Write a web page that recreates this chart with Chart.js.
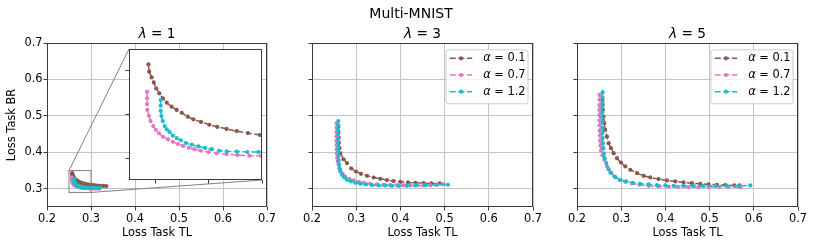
<!DOCTYPE html>
<html><head><meta charset="utf-8">
<script src="https://cdn.jsdelivr.net/npm/chart.js@4/dist/chart.umd.min.js"></script>
<style>
html,body{margin:0;padding:0;background:#fff;}
#wrap{position:relative;width:814px;height:247px;background:#fff;}
canvas{position:absolute;left:0;top:0;}
</style></head><body>
<div id="wrap">
<canvas id="c1" width="814" height="247"></canvas>
<canvas id="c2" width="814" height="247"></canvas>
<canvas id="c3" width="814" height="247"></canvas>
<canvas id="cin" width="814" height="247"></canvas>
</div>
<script>
// ---------------- data ----------------
const suptitle = 'Multi-MNIST';
const lambdas = ['1', '3', '5'];
const seriesLabels = ['α = 0.1', 'α = 0.7', 'α = 1.2'];
const xAxisLabel = 'Loss Task TL';
const yAxisLabel = 'Loss Task BR';
const xTicks = [0.2, 0.3, 0.4, 0.5, 0.6, 0.7];
const yTicks = [0.3, 0.4, 0.5, 0.6, 0.7];
const insetXTicks = [0.26, 0.28, 0.30];
const insetYTicks = [0.30, 0.32, 0.34];

// lambda = 1
const lam1_a01_x = [0.2573,0.2576,0.2585,0.2593,0.2602,0.2614,0.2627,0.2642,0.2660,0.2679,0.2698,0.2721,0.2742,0.2771,0.2802,0.2832,0.2867,0.2905,0.2947,0.2992,0.3040,0.3090,0.3150,0.3210,0.3280,0.3350];
const lam1_a01_y = [0.3430,0.3396,0.3370,0.3347,0.3320,0.3297,0.3274,0.3254,0.3236,0.3221,0.3208,0.3190,0.3178,0.3166,0.3153,0.3143,0.3134,0.3124,0.3115,0.3106,0.3099,0.3093,0.3087,0.3082,0.3078,0.3075];
const lam1_a07_x = [0.2568,0.2568,0.2568,0.2569,0.2575,0.2581,0.2591,0.2601,0.2613,0.2628,0.2647,0.2665,0.2684,0.2703,0.2725,0.2746,0.2770,0.2799,0.2830,0.2867,0.2908,0.2953,0.2996,0.3040,0.3090,0.3140,0.3190];
const lam1_a07_y = [0.3304,0.3274,0.3248,0.3221,0.3194,0.3170,0.3147,0.3129,0.3114,0.3098,0.3086,0.3075,0.3065,0.3056,0.3048,0.3041,0.3034,0.3028,0.3022,0.3018,0.3014,0.3011,0.3011,0.3009,0.3008,0.3007,0.3006];
const lam1_a12_x = [0.2619,0.2619,0.2619,0.2622,0.2627,0.2634,0.2642,0.2652,0.2665,0.2679,0.2695,0.2714,0.2736,0.2761,0.2786,0.2811,0.2840,0.2867,0.2905,0.2945,0.2986,0.3030,0.3070,0.3110,0.3160,0.3200];
const lam1_a12_y = [0.3266,0.3240,0.3217,0.3193,0.3170,0.3147,0.3132,0.3120,0.3103,0.3092,0.3082,0.3069,0.3062,0.3054,0.3047,0.3041,0.3034,0.3031,0.3030,0.3028,0.3028,0.3027,0.3026,0.3025,0.3025,0.3025];

// lambda = 3
const lam3_a01_x = [0.2595,0.2598,0.2603,0.2610,0.2622,0.2640,0.2715,0.2792,0.2889,0.2995,0.3109,0.3244,0.3395,0.3545,0.3697,0.3846,0.3998,0.4172,0.4337,0.4525,0.4699,0.4888];
const lam3_a01_y = [0.470,0.455,0.440,0.426,0.412,0.398,0.381,0.3704,0.3557,0.3474,0.3411,0.3356,0.3310,0.3274,0.3238,0.3211,0.3192,0.3174,0.3165,0.3155,0.3146,0.3146];
const lam3_a07_x = [0.2557,0.2555,0.2553,0.2553,0.2553,0.2555,0.2558,0.2563,0.2570,0.2583,0.2602,0.2640,0.2694,0.2746,0.2844,0.2942,0.3055,0.3168,0.3319,0.3470,0.3620,0.3771,0.3922,0.4073,0.4223,0.4374,0.4525,0.4676,0.4827,0.4977];
const lam3_a07_y = [0.480,0.468,0.456,0.444,0.432,0.420,0.408,0.396,0.385,0.375,0.3658,0.3520,0.3411,0.3338,0.3274,0.3228,0.3192,0.3164,0.3137,0.3119,0.3110,0.3100,0.3100,0.3100,0.3091,0.3091,0.3091,0.3100,0.3110,0.3125];
const lam3_a12_x = [0.2595,0.2593,0.2591,0.2590,0.2590,0.2591,0.2593,0.2596,0.2600,0.2605,0.2612,0.2622,0.2640,0.2678,0.2731,0.2792,0.2882,0.2980,0.3093,0.3221,0.3357,0.3508,0.3658,0.3809,0.3960,0.4148,0.4337,0.4563,0.4805,0.5076];
const lam3_a12_y = [0.486,0.474,0.462,0.450,0.438,0.426,0.414,0.402,0.390,0.378,0.366,0.356,0.3475,0.3384,0.3310,0.3247,0.3200,0.3164,0.3137,0.3119,0.3100,0.3091,0.3091,0.3082,0.3082,0.3082,0.3091,0.3100,0.3110,0.3110];

// lambda = 5
const lam5_a01_x = [0.2575,0.2580,0.2586,0.2601,0.2616,0.2639,0.2678,0.2715,0.2768,0.2828,0.2904,0.2995,0.3093,0.3206,0.3357,0.3508,0.3658,0.3847,0.4035,0.4224,0.4412,0.4601,0.4789,0.4977,0.5166,0.5355,0.5558,0.5679];
const lam5_a01_y = [0.545,0.530,0.5164,0.498,0.4799,0.4616,0.4434,0.4251,0.4114,0.3977,0.3840,0.3721,0.3612,0.3521,0.3430,0.3356,0.3311,0.3265,0.3228,0.3201,0.3174,0.3155,0.3137,0.3119,0.3110,0.3101,0.3091,0.3091];
const lam5_a07_x = [0.2511,0.2508,0.2507,0.2507,0.2508,0.2510,0.2512,0.2515,0.2519,0.2524,0.2530,0.2545,0.2575,0.2618,0.2678,0.2753,0.2844,0.2964,0.3093,0.3244,0.3417,0.3620,0.3847,0.4073,0.4299,0.4525,0.4751,0.4977,0.5204,0.5430,0.5700];
const lam5_a07_y = [0.5575,0.544,0.530,0.516,0.502,0.488,0.474,0.460,0.446,0.432,0.418,0.405,0.392,0.3795,0.3612,0.3447,0.3338,0.3247,0.3192,0.3146,0.3110,0.3082,0.3064,0.3055,0.3046,0.3046,0.3046,0.3046,0.3046,0.3046,0.3040];
const lam5_a12_x = [0.2580,0.2577,0.2575,0.2573,0.2572,0.2572,0.2573,0.2575,0.2578,0.2582,0.2588,0.2597,0.2610,0.2628,0.2663,0.2715,0.2776,0.2866,0.2980,0.3115,0.3266,0.3432,0.3620,0.3809,0.3998,0.4186,0.4412,0.4638,0.4865,0.5129,0.5393,0.5657,0.5920];
const lam5_a12_y = [0.565,0.551,0.537,0.523,0.509,0.495,0.481,0.467,0.453,0.439,0.425,0.411,0.397,0.384,0.3704,0.3539,0.3430,0.3320,0.3247,0.3201,0.3164,0.3137,0.3119,0.3100,0.3091,0.3082,0.3082,0.3082,0.3082,0.3082,0.3082,0.3082,0.3091];

// ---------------- style ----------------
const F = "'DejaVu Sans', sans-serif";
const COLORS = ['#8c564b', '#e377c2', '#17becf'];
const SPINE = '#3a3a3a';
const GRID = '#c4c4c4';
const FS = 11.4, FT = 13.7;

const panels = [
  [[lam1_a01_x, lam1_a01_y], [lam1_a07_x, lam1_a07_y], [lam1_a12_x, lam1_a12_y]],
  [[lam3_a01_x, lam3_a01_y], [lam3_a07_x, lam3_a07_y], [lam3_a12_x, lam3_a12_y]],
  [[lam5_a01_x, lam5_a01_y], [lam5_a07_x, lam5_a07_y], [lam5_a12_x, lam5_a12_y]]
];

function pts(xs, ys) { return xs.map((x, i) => ({x: x, y: ys[i]})); }

function makeDatasets(series, clip) {
  return series.map((s, i) => {
    const d = {
      label: seriesLabels[i], data: pts(s[0], s[1]),
      borderColor: COLORS[i], backgroundColor: COLORS[i],
      pointBackgroundColor: COLORS[i], pointBorderWidth: 0, pointRadius: 2.1,
      borderWidth: 1.5, borderDash: [6, 2.6], tension: 0, fill: false,
      order: 3 - i
    };
    if (clip !== undefined) d.clip = clip;
    return d;
  });
}

function mathText(ctx, sym, rest, cx, y, size) {
  ctx.font = 'italic ' + size + 'px ' + F;
  const w1 = ctx.measureText(sym).width;
  ctx.font = size + 'px ' + F;
  const w2 = ctx.measureText(rest).width;
  let x = cx - (w1 + w2) / 2;
  ctx.textAlign = 'left';
  ctx.font = 'italic ' + size + 'px ' + F;
  ctx.fillText(sym, x, y);
  ctx.font = size + 'px ' + F;
  ctx.fillText(rest, x + w1, y);
}

const decoPlugin = {
  id: 'deco',
  afterDatasetsDraw(chart, args, opts) {
    const ctx = chart.ctx, a = chart.chartArea;
    ctx.save();
    // frame
    ctx.strokeStyle = SPINE; ctx.lineWidth = 1;
    ctx.strokeRect(Math.round(a.left) + 0.5, Math.round(a.top) + 0.5,
                   Math.round(a.right - a.left) - 1, Math.round(a.bottom - a.top) - 1);
    // panel title
    ctx.fillStyle = '#000'; ctx.textBaseline = 'alphabetic';
    mathText(ctx, 'λ', ' = ' + opts.lambda, (a.left + a.right) / 2, 38, FT);
    if (opts.suptitle) {
      ctx.font = '14px ' + F; ctx.textAlign = 'center';
      ctx.fillText(suptitle, 411, 18.3);
    }
    // legend
    if (opts.legend) {
      const w = 82, h = 54, bx = a.right - 5.5 - w, by = a.top + 6.3;
      ctx.beginPath();
      ctx.roundRect(bx + 0.5, by + 0.5, w, h, 2.5);
      ctx.fillStyle = 'rgba(255,255,255,0.8)'; ctx.fill();
      ctx.strokeStyle = '#cccccc'; ctx.lineWidth = 1; ctx.stroke();
      chart.data.datasets.forEach((ds, i) => {
        const cy = by + 9 + i * 16.7;
        ctx.strokeStyle = ds.borderColor; ctx.lineWidth = 1.5;
        ctx.setLineDash([6, 2.6]);
        ctx.beginPath(); ctx.moveTo(bx + 4.3, cy); ctx.lineTo(bx + 26.7, cy); ctx.stroke();
        ctx.setLineDash([]);
        ctx.fillStyle = ds.borderColor;
        ctx.beginPath(); ctx.arc(bx + 15.5, cy, 2.1, 0, Math.PI * 2); ctx.fill();
        ctx.fillStyle = '#000'; ctx.textBaseline = 'middle';
        const parts = ds.label.split(' ');
        ctx.font = 'italic ' + FS + 'px ' + F; ctx.textAlign = 'left';
        const w1 = ctx.measureText(parts[0]).width;
        ctx.fillText(parts[0], bx + 37.7, cy);
        ctx.font = FS + 'px ' + F;
        ctx.fillText(' ' + parts.slice(1).join(' '), bx + 37.7 + w1, cy);
      });
    }
    // inset marker
    if (opts.inset) {
      const xs = chart.scales.x, ys = chart.scales.y;
      const ic = opts.inset.chartArea;
      const x0 = xs.getPixelForValue(opts.insetBox[0]), x1 = xs.getPixelForValue(opts.insetBox[1]);
      const y0 = ys.getPixelForValue(opts.insetBox[2]), y1 = ys.getPixelForValue(opts.insetBox[3]);
      ctx.strokeStyle = '#808080'; ctx.lineWidth = 1;
      ctx.strokeRect(x0, y1, x1 - x0, y0 - y1);
      ctx.beginPath();
      ctx.moveTo(x0, y1); ctx.lineTo(ic.left, ic.top);
      ctx.moveTo(x1, y0); ctx.lineTo(ic.right, ic.bottom);
      ctx.stroke();
    }
    ctx.restore();
  }
};

function mainOptions(idx) {
  const L = [47, 312, 577][idx], R = [267, 533, 798][idx];
  const yW = idx === 0 ? 47 : 10;
  return {
    responsive: false, animation: false, devicePixelRatio: 1,
    layout: {padding: {left: L - yW, right: 814 - R, top: 43, bottom: 0}},
    plugins: {legend: {display: false}, tooltip: {enabled: false}, title: {display: false},
      deco: {lambda: lambdas[idx], legend: idx > 0, suptitle: idx === 1}},
    scales: {
      x: {
        type: 'linear', min: 0.2, max: 0.7,
        afterBuildTicks: s => { s.ticks = xTicks.map(v => ({value: v})); },
        afterFit: s => { s.height = 40; s.paddingLeft = 0; s.paddingRight = 0; },
        grid: {color: GRID, lineWidth: 1, tickColor: SPINE, tickWidth: 1, tickLength: 3.5},
        border: {display: false},
        ticks: {color: '#000', font: {family: F, size: FS}, padding: 1.5, autoSkip: false, maxRotation: 0,
                callback: v => v.toFixed(1)},
        title: {display: true, text: xAxisLabel, color: '#000', font: {family: F, size: FS},
                padding: {top: 0, bottom: 7.5}}
      },
      y: {
        type: 'linear', min: 0.25, max: 0.7,
        afterBuildTicks: s => { s.ticks = yTicks.map(v => ({value: v})); },
        afterFit: s => { s.width = yW; s.paddingTop = 0; s.paddingBottom = 0; },
        grid: {color: GRID, lineWidth: 1, tickColor: SPINE, tickWidth: 1, tickLength: 3.5},
        border: {display: false},
        ticks: {display: idx === 0, color: '#000', font: {family: F, size: FS}, padding: 1,
                callback: v => v.toFixed(1)},
        title: {display: idx === 0, text: yAxisLabel, color: '#000', font: {family: F, size: FS},
                padding: {top: 5, bottom: 0}}
      }
    }
  };
}

// inset (lambda = 1 zoom)
const insetBox = [0.25, 0.30, 0.29, 0.35];
const insetFrame = {
  id: 'insetFrame',
  beforeDatasetsDraw(chart) {
    const ctx = chart.ctx, a = chart.chartArea;
    ctx.save(); ctx.fillStyle = '#fff';
    ctx.fillRect(a.left, a.top, a.right - a.left, a.bottom - a.top);
    ctx.restore();
  },
  afterDatasetsDraw(chart) {
    const ctx = chart.ctx, a = chart.chartArea;
    ctx.save(); ctx.strokeStyle = SPINE; ctx.lineWidth = 1;
    ctx.strokeRect(Math.round(a.left) + 0.5, Math.round(a.top) + 0.5,
                   Math.round(a.right - a.left) - 1, Math.round(a.bottom - a.top) - 1);
    ctx.restore();
  }
};
const insetChart = new Chart(document.getElementById('cin'), {
  type: 'line',
  data: {datasets: makeDatasets(panels[0], 0)},
  plugins: [insetFrame],
  options: {
    responsive: false, animation: false, devicePixelRatio: 1,
    layout: {padding: {left: 125, right: 814 - 262, top: 49, bottom: 247 - 180 - 4}},
    plugins: {legend: {display: false}, tooltip: {enabled: false}},
    scales: {
      x: {type: 'linear', min: insetBox[0], max: insetBox[1],
          afterBuildTicks: s => { s.ticks = insetXTicks.map(v => ({value: v})); },
          afterFit: s => { s.height = 4; s.paddingLeft = 0; s.paddingRight = 0; },
          grid: {display: true, drawOnChartArea: false, drawTicks: true, tickLength: 3.5, tickColor: SPINE, tickWidth: 1},
          border: {display: false}, ticks: {display: false}},
      y: {type: 'linear', min: insetBox[2], max: insetBox[3],
          afterBuildTicks: s => { s.ticks = insetYTicks.map(v => ({value: v})); },
          afterFit: s => { s.width = 4; s.paddingTop = 0; s.paddingBottom = 0; },
          grid: {display: true, drawOnChartArea: false, drawTicks: true, tickLength: 3.5, tickColor: SPINE, tickWidth: 1},
          border: {display: false}, ticks: {display: false}}
    }
  }
});

['c1', 'c2', 'c3'].forEach((id, idx) => {
  const opts = mainOptions(idx);
  if (idx === 0) { opts.plugins.deco.inset = insetChart; opts.plugins.deco.insetBox = insetBox; }
  new Chart(document.getElementById(id), {
    type: 'line',
    data: {datasets: makeDatasets(panels[idx])},
    plugins: [decoPlugin],
    options: opts
  });
});
</script>
</body></html>
